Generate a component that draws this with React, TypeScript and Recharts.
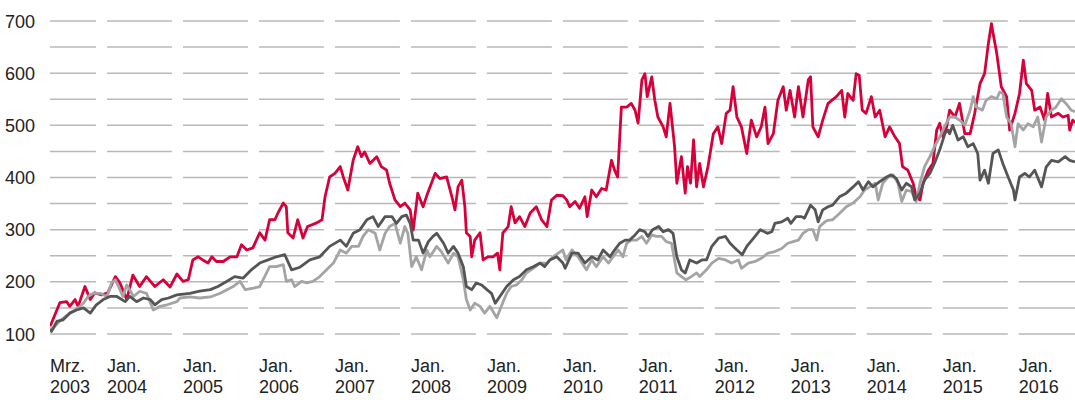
import React from 'react';
import { LineChart, Line, XAxis, YAxis, ReferenceLine } from 'recharts';

const X_MIN = 2003.25;
const X_MAX = 2016.74;

const xTickValues = [2003.25, 2004, 2005, 2006, 2007, 2008, 2009, 2010, 2011, 2012, 2013, 2014, 2015, 2016];
const xTickMonths = ['Mrz.', 'Jan.', 'Jan.', 'Jan.', 'Jan.', 'Jan.', 'Jan.', 'Jan.', 'Jan.', 'Jan.', 'Jan.', 'Jan.', 'Jan.', 'Jan.'];
const xTickYears = ['2003', '2004', '2005', '2006', '2007', '2008', '2009', '2010', '2011', '2012', '2013', '2014', '2015', '2016'];
const yTickValues = [100, 200, 300, 400, 500, 600, 700];
const gridValues = [100, 150, 200, 250, 300, 350, 400, 450, 500, 550, 600, 650, 700];

const redDates = [
  2003.25, 2003.27, 2003.38, 2003.47, 2003.51, 2003.58, 2003.62, 2003.71, 2003.78, 2003.84, 2003.93,
  2004.01, 2004.11, 2004.17, 2004.26, 2004.34, 2004.43, 2004.52, 2004.63, 2004.74, 2004.83, 2004.92,
  2005.0, 2005.07, 2005.13, 2005.2, 2005.26, 2005.33, 2005.38, 2005.44, 2005.53, 2005.62, 2005.71, 2005.77, 2005.84, 2005.92,
  2006.01, 2006.08, 2006.14, 2006.21, 2006.25, 2006.32, 2006.36, 2006.38, 2006.45, 2006.51, 2006.58, 2006.64, 2006.76, 2006.83, 2006.87, 2006.93,
  2007.0, 2007.07, 2007.11, 2007.17, 2007.24, 2007.3, 2007.35, 2007.39, 2007.46, 2007.55, 2007.61, 2007.68, 2007.72, 2007.79, 2007.86, 2007.92, 2007.99,
  2008.03, 2008.09, 2008.16, 2008.22, 2008.32, 2008.38, 2008.47, 2008.54, 2008.58, 2008.62, 2008.67, 2008.71, 2008.73, 2008.78, 2008.8, 2008.84, 2008.91, 2008.95,
  2009.01, 2009.08, 2009.14, 2009.17, 2009.21, 2009.28, 2009.32, 2009.37, 2009.43, 2009.5, 2009.57, 2009.65, 2009.72, 2009.79, 2009.85, 2009.92,
  2010.0, 2010.05, 2010.09, 2010.16, 2010.22, 2010.29, 2010.32, 2010.38, 2010.44, 2010.51, 2010.57, 2010.64, 2010.68, 2010.72, 2010.77, 2010.84, 2010.9, 2010.95, 2010.99,
  2011.04, 2011.08, 2011.11, 2011.17, 2011.21, 2011.25, 2011.32, 2011.36, 2011.41, 2011.47, 2011.5, 2011.56, 2011.61, 2011.64, 2011.68, 2011.72, 2011.76, 2011.8, 2011.85, 2011.91, 2011.98,
  2012.04, 2012.09, 2012.15, 2012.2, 2012.24, 2012.29, 2012.35, 2012.42, 2012.48, 2012.55, 2012.61, 2012.66, 2012.7, 2012.77, 2012.83, 2012.9, 2012.94, 2012.99,
  2013.05, 2013.1, 2013.16, 2013.23, 2013.26, 2013.29, 2013.36, 2013.42, 2013.49, 2013.6, 2013.67, 2013.71, 2013.75, 2013.82, 2013.86, 2013.9, 2013.94, 2013.99,
  2014.06, 2014.11, 2014.17, 2014.24, 2014.3, 2014.37, 2014.43, 2014.47, 2014.54, 2014.61, 2014.65, 2014.7, 2014.74, 2014.81, 2014.87, 2014.92, 2014.96,
  2015.0, 2015.05, 2015.09, 2015.16, 2015.22, 2015.29, 2015.36, 2015.42, 2015.49, 2015.55, 2015.6, 2015.64, 2015.67, 2015.71, 2015.77, 2015.84, 2015.88, 2015.95,
  2016.01, 2016.06, 2016.1, 2016.17, 2016.21, 2016.28, 2016.34, 2016.38, 2016.43, 2016.52, 2016.58, 2016.65, 2016.67, 2016.71, 2016.74,
];
const redValues = [
  115, 121, 160, 162, 153, 166, 153, 191, 166, 179, 175,
  179, 210, 198, 166, 213, 191, 210, 191, 204, 190, 215,
  201, 204, 242, 248, 242, 236, 248, 239, 239, 248, 248, 271, 261, 265,
  294, 280, 319, 319, 332, 351, 344, 294, 284, 319, 284, 306, 313, 319, 363, 401,
  408, 421, 401, 376, 433, 459, 440, 449, 427, 440, 421, 414, 389, 357, 344, 351, 338,
  299, 370, 344, 370, 408, 398, 401, 363, 338, 382, 395, 344, 294, 287, 248, 280, 294, 242,
  248, 248, 255, 223, 294, 306, 344, 313, 325, 306, 332, 344, 319, 306, 357, 366,
  365, 357, 344, 354, 341, 363, 325, 376, 363, 379, 376, 433, 414, 401, 535, 535, 542, 529, 504,
  587, 599, 555, 593, 548, 516, 497, 478, 542, 459, 389, 440, 370, 421, 389, 472, 382, 427, 382, 421, 484,
  497, 465, 523, 529, 574, 516, 497, 446, 510, 478, 497, 535, 465, 484, 548, 574, 529, 567,
  516, 574, 516, 587, 593, 497, 478, 510, 542, 555, 567, 516, 561, 548, 599, 596, 529, 523,
  555, 516, 529, 478, 497, 478, 465, 421, 414, 389, 363, 357, 389, 414, 427, 491, 504,
  478, 497, 529, 516, 542, 484, 484, 523, 580, 599, 657, 695, 670, 638, 574, 555, 491, 523,
  561, 625, 580, 567, 529, 535, 510, 561, 516, 523, 516, 519, 491, 510, 505,
];

const darkDates = [
  2003.25, 2003.27, 2003.34, 2003.42, 2003.51, 2003.6, 2003.69, 2003.78, 2003.86, 2003.95,
  2004.04, 2004.13, 2004.24, 2004.3, 2004.39, 2004.48, 2004.57, 2004.63, 2004.72, 2004.81, 2004.92,
  2005.09, 2005.22, 2005.36, 2005.46, 2005.58, 2005.68, 2005.79, 2005.9,
  2006.01, 2006.12, 2006.23, 2006.34, 2006.43, 2006.54, 2006.67, 2006.8, 2006.93,
  2007.07, 2007.15, 2007.24, 2007.33, 2007.42, 2007.5, 2007.57, 2007.66, 2007.75, 2007.81, 2007.88, 2007.94, 2007.99,
  2008.03, 2008.1, 2008.16, 2008.23, 2008.29, 2008.34, 2008.43, 2008.49, 2008.56, 2008.62, 2008.69, 2008.73, 2008.8, 2008.86, 2008.93,
  2009.0, 2009.06, 2009.11, 2009.17, 2009.26, 2009.35, 2009.43, 2009.52, 2009.61, 2009.7, 2009.76, 2009.83, 2009.92,
  2010.0, 2010.03, 2010.12, 2010.2, 2010.29, 2010.38, 2010.46, 2010.53, 2010.62, 2010.68, 2010.75, 2010.82, 2010.88, 2010.95,
  2011.01, 2011.08, 2011.12, 2011.18, 2011.26, 2011.32, 2011.39, 2011.45, 2011.5, 2011.56, 2011.61, 2011.67, 2011.76, 2011.83, 2011.89, 2011.96,
  2012.05, 2012.14, 2012.2, 2012.29, 2012.36, 2012.42, 2012.51, 2012.6, 2012.69, 2012.75, 2012.79, 2012.88, 2012.96,
  2013.0, 2013.07, 2013.14, 2013.18, 2013.26, 2013.32, 2013.36, 2013.42, 2013.49, 2013.55, 2013.64, 2013.73, 2013.82, 2013.89, 2013.95,
  2014.02, 2014.08, 2014.17, 2014.26, 2014.32, 2014.39, 2014.46, 2014.52, 2014.59, 2014.63, 2014.7, 2014.76, 2014.83, 2014.89, 2014.96,
  2015.03, 2015.07, 2015.09, 2015.13, 2015.2, 2015.27, 2015.33, 2015.4, 2015.46, 2015.49, 2015.55, 2015.6, 2015.66, 2015.73, 2015.79, 2015.86, 2015.93, 2015.95,
  2016.01, 2016.08, 2016.14, 2016.21, 2016.3, 2016.36, 2016.43, 2016.52, 2016.61, 2016.67, 2016.74,
];
const darkValues = [
  108, 105, 124, 127, 140, 146, 150, 140, 156, 166,
  172, 172, 162, 172, 162, 169, 166, 156, 166, 169, 175,
  178, 182, 185, 191, 201, 210, 207, 223,
  236, 242, 248, 252, 223, 228, 242, 248, 268,
  280, 268, 293, 300, 319, 325, 306, 325, 325, 312, 325, 328, 312,
  280, 280, 255, 277, 287, 293, 274, 255, 268, 255, 229, 191, 185, 198, 194,
  185, 178, 159, 172, 191, 204, 210, 223, 229, 236, 229, 242, 248,
  236, 226, 255, 255, 236, 248, 242, 261, 248, 261, 274, 280, 280, 290,
  300, 296, 287, 300, 306, 296, 300, 293, 248, 223, 217, 242, 236, 242, 242, 268,
  284, 287, 274, 261, 252, 268, 284, 300, 293, 296, 312, 315, 322,
  312, 325, 325, 322, 347, 338, 315, 338, 344, 347, 363, 370, 382, 392, 376,
  392, 382, 392, 401, 405, 398, 376, 389, 382, 357, 370, 395, 408, 427, 453,
  485, 491, 484, 500, 472, 478, 459, 465, 446, 395, 414, 389, 446, 453, 427, 401, 376, 357,
  401, 408, 401, 414, 382, 420, 433, 430, 440, 433, 430,
];

const lightDates = [
  2003.25, 2003.27, 2003.38, 2003.51, 2003.6, 2003.69, 2003.75, 2003.82, 2003.91,
  2004.0, 2004.06, 2004.11, 2004.17, 2004.21, 2004.26, 2004.35, 2004.43, 2004.52, 2004.61, 2004.7, 2004.79, 2004.92, 2004.96,
  2005.09, 2005.22, 2005.36, 2005.49, 2005.58, 2005.66, 2005.75, 2005.82, 2005.93,
  2006.01, 2006.1, 2006.14, 2006.23, 2006.32, 2006.36, 2006.43, 2006.47, 2006.56, 2006.63, 2006.71, 2006.8, 2006.89, 2006.98,
  2007.07, 2007.15, 2007.22, 2007.31, 2007.37, 2007.44, 2007.53, 2007.59, 2007.66, 2007.72, 2007.79, 2007.86, 2007.92, 2007.96,
  2008.01, 2008.07, 2008.14, 2008.21, 2008.25, 2008.34, 2008.4, 2008.49, 2008.56, 2008.62, 2008.69, 2008.73, 2008.78, 2008.84, 2008.91, 2008.97,
  2009.04, 2009.13, 2009.19, 2009.26, 2009.32, 2009.39, 2009.46, 2009.52, 2009.61, 2009.7, 2009.79, 2009.87, 2009.94,
  2010.0, 2010.04, 2010.12, 2010.2, 2010.31, 2010.38, 2010.44, 2010.53, 2010.6, 2010.66, 2010.73, 2010.79, 2010.84, 2010.9, 2010.97,
  2011.04, 2011.1, 2011.17, 2011.23, 2011.3, 2011.36, 2011.43, 2011.5, 2011.56, 2011.62, 2011.69, 2011.76, 2011.8, 2011.89, 2011.96,
  2012.05, 2012.14, 2012.22, 2012.31, 2012.35, 2012.44, 2012.53, 2012.61, 2012.7, 2012.79, 2012.88, 2012.96,
  2013.03, 2013.1, 2013.16, 2013.23, 2013.29, 2013.34, 2013.38, 2013.45, 2013.49, 2013.55, 2013.64, 2013.73, 2013.82, 2013.91, 2013.97,
  2014.04, 2014.11, 2014.15, 2014.21, 2014.28, 2014.35, 2014.41, 2014.46, 2014.52, 2014.59, 2014.65, 2014.7, 2014.76, 2014.83, 2014.89, 2014.96,
  2015.03, 2015.07, 2015.09, 2015.16, 2015.22, 2015.29, 2015.36, 2015.4, 2015.44, 2015.52, 2015.57, 2015.64, 2015.71, 2015.75, 2015.79, 2015.84, 2015.9, 2015.95, 2015.99,
  2016.06, 2016.12, 2016.19, 2016.25, 2016.3, 2016.36, 2016.43, 2016.49, 2016.56, 2016.62, 2016.69, 2016.74,
];
const lightValues = [
  112, 108, 125, 140, 148, 159, 172, 178, 178,
  172, 198, 204, 185, 172, 194, 172, 182, 178, 146, 153, 156, 162, 169,
  171, 169, 171, 178, 185, 191, 201, 185, 188,
  191, 217, 229, 229, 233, 201, 204, 191, 201, 198, 201, 210, 223, 236,
  261, 255, 268, 268, 287, 300, 293, 261, 293, 306, 312, 274, 306, 293,
  229, 248, 223, 261, 248, 268, 258, 236, 255, 248, 204, 166, 146, 159, 153, 140,
  153, 131, 153, 178, 191, 194, 204, 217, 226, 236, 236, 248, 255,
  261, 242, 261, 248, 223, 242, 229, 248, 236, 248, 261, 248, 274, 280, 280,
  287, 274, 290, 287, 287, 277, 274, 217, 210, 204, 210, 217, 210, 223, 236,
  245, 242, 236, 242, 226, 236, 239, 245, 255, 258, 264, 274,
  277, 280, 293, 300, 300, 280, 306, 315, 318, 319, 331, 344, 351, 363, 376,
  382, 389, 357, 389, 401, 405, 389, 354, 376, 373, 354, 389, 421, 440, 459, 478,
  500, 510, 516, 516, 510, 500, 529, 555, 535, 529, 548, 555, 551, 564, 561, 516, 503, 459, 503,
  491, 503, 497, 516, 468, 516, 529, 535, 551, 542, 529, 526,
];

const toSeries = (dates: number[], values: number[]) => dates.map((t, i) => ({ t, v: values[i] }));
const redData = toSeries(redDates, redValues);
const darkData = toSeries(darkDates, darkValues);
const lightData = toSeries(lightDates, lightValues);

const segmentStarts = xTickValues;
const GAP = 0.145;

const FONT = '"Liberation Sans", Arial, Helvetica, sans-serif';
const TEXT_COLOR = '#222222';

const XTick = (props: any) => {
  const { x, y, payload } = props;
  const i = xTickValues.indexOf(payload.value);
  return (
    <g>
      <text x={x} y={y} dy={38} textAnchor="start" fontFamily={FONT} fontSize={18} fill={TEXT_COLOR}>
        {xTickMonths[i]}
      </text>
      <text x={x} y={y} dy={59} textAnchor="start" fontFamily={FONT} fontSize={18} fill={TEXT_COLOR}>
        {xTickYears[i]}
      </text>
    </g>
  );
};

const YTick = (props: any) => {
  const { x, y, payload } = props;
  return (
    <text x={x} y={y} dy={6.5} textAnchor="end" fontFamily={FONT} fontSize={18} fill={TEXT_COLOR}>
      {payload.value}
    </text>
  );
};

export default function App() {
  const gridLines: React.ReactNode[] = [];
  gridValues.forEach((g) => {
    segmentStarts.forEach((s, j) => {
      const yearStart = j === 0 ? 2003 : s;
      const end = Math.min(yearStart + 1 - GAP, X_MAX);
      gridLines.push(
        <ReferenceLine
          key={`g-${g}-${j}`}
          segment={[{ x: s, y: g }, { x: end, y: g }]}
          stroke="#b9b9b9"
          strokeWidth={1.5}
          ifOverflow="visible"
        />
      );
    });
  });

  return (
    <div style={{ position: 'absolute', left: 0, top: 0, width: 1075, height: 400, background: '#fff' }}>
      <LineChart width={1075} height={400} margin={{ top: 21, right: 0, bottom: 0, left: 0 }}>
        <XAxis
          type="number"
          dataKey="t"
          domain={[X_MIN, X_MAX]}
          ticks={xTickValues}
          allowDataOverflow
          axisLine={false}
          tickLine={false}
          tickSize={0}
          tickMargin={0}
          height={66}
          tick={<XTick />}
          interval={0}
        />
        <YAxis
          type="number"
          domain={[100, 700]}
          ticks={yTickValues}
          allowDataOverflow
          axisLine={false}
          tickLine={false}
          tickSize={0}
          tickMargin={15}
          width={50}
          tick={<YTick />}
          interval={0}
        />
        {gridLines}
        <Line data={redData} dataKey="v" type="linear" stroke="#d6003a" strokeWidth={2.8} dot={false} isAnimationActive={false} strokeLinejoin="round" />
        <Line data={lightData} dataKey="v" type="linear" stroke="#a4a4a4" strokeWidth={2.8} dot={false} isAnimationActive={false} strokeLinejoin="round" />
        <Line data={darkData} dataKey="v" type="linear" stroke="#555555" strokeWidth={2.8} dot={false} isAnimationActive={false} strokeLinejoin="round" />
      </LineChart>
    </div>
  );
}
